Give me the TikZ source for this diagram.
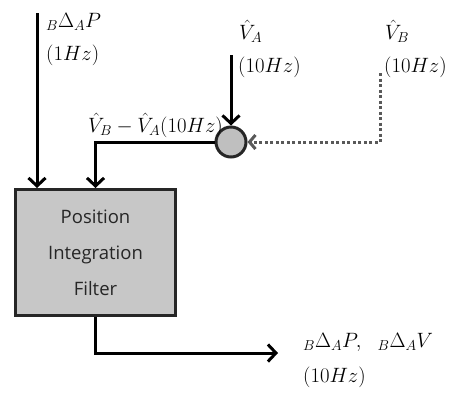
\documentclass[tikz,border=0pt]{standalone}
\usepackage{fontspec}
\newfontfamily\boxfont{Open Sans}
\usetikzlibrary{arrows.meta}
\begin{document}
\begin{tikzpicture}[x=1pt,y=-1pt,
  line/.style={line width=3pt, draw=black},
  arr/.style={line, -{Straight Barb[length=8pt,width=17pt]}},
  dotline/.style={line width=3pt, draw=black!65, dash pattern=on 3pt off 2.5pt, -{Straight Barb[length=6pt,width=14pt]}},
  lbl/.style={font=\fontsize{21}{24}\selectfont, inner sep=0pt, anchor=west},
  ]
\useasboundingbox (0,0) rectangle (457,392);
\node[draw=black!85, line width=3pt, fill=black!22, minimum width=160pt, minimum height=126pt,
  anchor=north west, align=center, text=black!85, font=\boxfont\fontsize{18.5}{36}\selectfont] (filt) at (14,188)
  {Position\\Integration\\Filter};
\node[circle, draw=black!85, line width=3pt, fill=black!25, minimum size=30pt, inner sep=0pt] (sum) at (231,142) {};
\coordinate (inP) at (37,13);
\coordinate (va) at (231,55);
\coordinate (vb) at (380,73);
\coordinate (out) at (278,353);
\draw[arr] (inP) -- (inP |- filt.north);
\draw[arr] (sum.west) -| (filt.north);
\draw[arr] (va) -- (sum.north);
\draw[dotline] (vb) |- (sum.east);
\draw[arr] (filt.south) |- (out);
\node[lbl] (l1) at (46,22) {${}_B\Delta_A P$};
\node[lbl] (l1b) at (46,55) {$(1Hz)$};
\node[lbl] (l2) at (88,125) {$\hat V_B - \hat V_A(10Hz)$};
\node[lbl] (l3) at (239,31) {$\hat V_A$};
\node[lbl] (l3b) at (238,67) {$(10Hz)$};
\node[lbl] (l4) at (385,31) {$\hat V_B$};
\node[lbl] (l4b) at (384,67) {$(10Hz)$};
\node[lbl] (l5) at (303,342) {${}_B\Delta_A P,\ \ {}_B\Delta_A V$};
\node[lbl] (l5b) at (303,377) {$(10Hz)$};
\end{tikzpicture}
\end{document}
